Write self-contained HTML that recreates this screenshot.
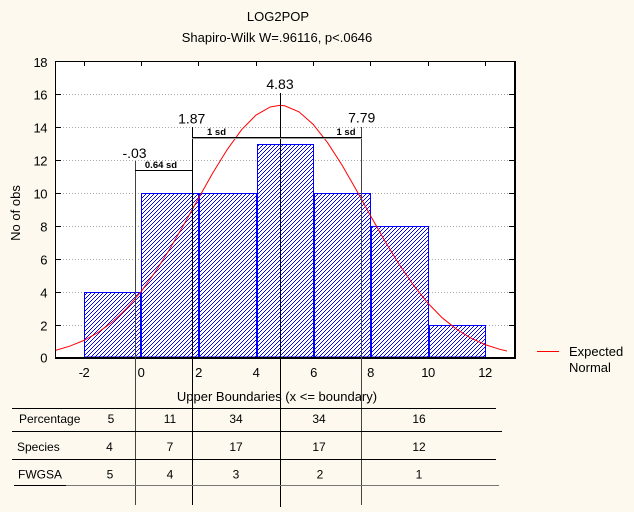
<!DOCTYPE html>
<html>
<head>
<meta charset="utf-8">
<style>
html,body{margin:0;padding:0;background:#fdf9ee;}
svg{display:block;}
text{font-family:"Liberation Sans",Arial,sans-serif;fill:#000;}
</style>
</head>
<body>
<svg width="634" height="512" viewBox="0 0 634 512" xmlns="http://www.w3.org/2000/svg">
<defs>
<pattern id="h" x="0" y="0" width="4" height="4" patternUnits="userSpaceOnUse">
<rect x="0" y="0" width="4" height="4" fill="#ffffff"/>
<rect x="3" y="0" width="1" height="1" fill="#0000ff"/>
<rect x="2" y="1" width="1" height="1" fill="#0000ff"/>
<rect x="1" y="2" width="1" height="1" fill="#0000ff"/>
<rect x="0" y="3" width="1" height="1" fill="#0000ff"/>
</pattern>
</defs>
<rect width="634" height="512" fill="#fdf9ee"/>

<!-- titles -->
<text x="278" y="21" font-size="13" text-anchor="middle">LOG2POP</text>
<text x="277" y="42" font-size="13" text-anchor="middle">Shapiro-Wilk W=.96116, p&lt;.0646</text>

<!-- plot area -->
<rect x="55" y="61" width="460" height="297" fill="#ffffff"/>

<!-- grid -->
<g stroke="#a8a8a8" stroke-width="1" stroke-dasharray="1,2">
<line x1="60" y1="94.5" x2="510" y2="94.5"/>
<line x1="60" y1="127.5" x2="510" y2="127.5"/>
<line x1="60" y1="160.5" x2="510" y2="160.5"/>
<line x1="60" y1="193.5" x2="510" y2="193.5"/>
<line x1="60" y1="226.5" x2="510" y2="226.5"/>
<line x1="60" y1="259.5" x2="510" y2="259.5"/>
<line x1="60" y1="292.5" x2="510" y2="292.5"/>
<line x1="60" y1="325.5" x2="510" y2="325.5"/>
</g>

<!-- bars -->
<g fill="url(#h)" stroke="#0000ff" stroke-width="1">
<rect x="84.5" y="292.5" width="56" height="64.5"/>
<rect x="141.5" y="193.5" width="57" height="163.5"/>
<rect x="199.5" y="193.5" width="57" height="163.5"/>
<rect x="257.5" y="144.5" width="56" height="212.5"/>
<rect x="314.5" y="193.5" width="56" height="163.5"/>
<rect x="371.5" y="226.5" width="57" height="130.5"/>
<rect x="429.5" y="325.5" width="56" height="31.5"/>
</g>

<!-- normal curve -->
<polyline fill="none" stroke="#ff0000" stroke-width="1" points="55.4,350.4 69.7,346.2 84,340.4 98.3,332.3 112.7,321.7 127,308.1 141.3,291.3 155.6,271.4 170,248.6 184.3,223.8 198.6,198.1 212.9,172.7 227.3,149.4 241.6,129.7 255.9,115.2 270.2,107 279.7,105.4 284.6,105.8 298.9,111.8 313.2,124.4 327.5,142.6 341.9,164.9 356.2,189.8 370.5,215.6 384.8,240.9 399.2,264.4 413.5,285.2 427.8,303 442.1,317.7 456.5,329.2 470.8,338.1 485.1,344.6 499.4,349.2 506.9,351"/>

<!-- frame -->
<line x1="55" y1="61.5" x2="516" y2="61.5" stroke="#000" stroke-width="1"/>
<line x1="55.5" y1="61" x2="55.5" y2="359" stroke="#000" stroke-width="1"/>
<line x1="55" y1="358" x2="516" y2="358" stroke="#000" stroke-width="2"/>
<line x1="515" y1="61" x2="515" y2="359" stroke="#000" stroke-width="2"/>

<!-- ticks -->
<g stroke="#000" stroke-width="1">
<line x1="56" y1="94.5" x2="61" y2="94.5"/>
<line x1="56" y1="127.5" x2="61" y2="127.5"/>
<line x1="56" y1="160.5" x2="61" y2="160.5"/>
<line x1="56" y1="193.5" x2="61" y2="193.5"/>
<line x1="56" y1="226.5" x2="61" y2="226.5"/>
<line x1="56" y1="259.5" x2="61" y2="259.5"/>
<line x1="56" y1="292.5" x2="61" y2="292.5"/>
<line x1="56" y1="325.5" x2="61" y2="325.5"/>
<line x1="509" y1="94.5" x2="514" y2="94.5"/>
<line x1="509" y1="127.5" x2="514" y2="127.5"/>
<line x1="509" y1="160.5" x2="514" y2="160.5"/>
<line x1="509" y1="193.5" x2="514" y2="193.5"/>
<line x1="509" y1="226.5" x2="514" y2="226.5"/>
<line x1="509" y1="259.5" x2="514" y2="259.5"/>
<line x1="509" y1="292.5" x2="514" y2="292.5"/>
<line x1="509" y1="325.5" x2="514" y2="325.5"/>
<line x1="84.5" y1="62" x2="84.5" y2="66"/>
<line x1="141.5" y1="62" x2="141.5" y2="66"/>
<line x1="198.5" y1="62" x2="198.5" y2="66"/>
<line x1="256.5" y1="62" x2="256.5" y2="66"/>
<line x1="313.5" y1="62" x2="313.5" y2="66"/>
<line x1="370.5" y1="62" x2="370.5" y2="66"/>
<line x1="428.5" y1="62" x2="428.5" y2="66"/>
<line x1="485.5" y1="62" x2="485.5" y2="66"/>
</g>

<!-- y tick labels -->
<g font-size="13" text-anchor="end" letter-spacing="-0.5">
<text x="47" y="67">18</text>
<text x="47" y="99.5">16</text>
<text x="47" y="132.5">14</text>
<text x="47" y="165.5">12</text>
<text x="47" y="198.5">10</text>
<text x="47" y="231.5">8</text>
<text x="47" y="264.5">6</text>
<text x="47" y="297.5">4</text>
<text x="47" y="330.5">2</text>
<text x="47" y="362.5">0</text>
</g>
<!-- x tick labels -->
<g font-size="13" text-anchor="middle" letter-spacing="-0.5">
<text x="84" y="377">-2</text>
<text x="141" y="377">0</text>
<text x="198.5" y="377">2</text>
<text x="256" y="377">4</text>
<text x="313.5" y="377">6</text>
<text x="370.5" y="377">8</text>
<text x="428" y="377">10</text>
<text x="485" y="377">12</text>
</g>

<!-- axis titles -->
<text x="277" y="401" font-size="13" text-anchor="middle">Upper Boundaries (x &lt;= boundary)</text>
<text transform="translate(20,213) rotate(-90)" font-size="13" text-anchor="middle">No of obs</text>

<!-- vertical marker lines -->
<line x1="135.5" y1="161" x2="135.5" y2="505" stroke="#444" stroke-width="1"/>
<line x1="192.5" y1="127" x2="192.5" y2="505" stroke="#000" stroke-width="1"/>
<line x1="280.5" y1="93" x2="280.5" y2="507" stroke="#000" stroke-width="1"/>
<line x1="361.5" y1="127" x2="361.5" y2="505" stroke="#444" stroke-width="1"/>

<!-- brackets -->
<line x1="135" y1="170.5" x2="193" y2="170.5" stroke="#000" stroke-width="1"/>
<line x1="192" y1="137.5" x2="362" y2="137.5" stroke="#000" stroke-width="1"/>
<line x1="192" y1="138.5" x2="362" y2="138.5" stroke="#999" stroke-width="1"/>

<!-- marker labels -->
<g font-size="14" text-anchor="middle">
<text x="134.5" y="158">-.03</text>
<text x="191.7" y="123.5">1.87</text>
<text x="280" y="89">4.83</text>
<text x="361.7" y="122.5">7.79</text>
</g>
<g font-size="9.5" font-weight="bold" text-anchor="middle">
<text x="161" y="168">0.64 sd</text>
<text x="216.5" y="135">1 sd</text>
<text x="346" y="135">1 sd</text>
</g>

<!-- legend -->
<line x1="537" y1="351.5" x2="559" y2="351.5" stroke="#ff0000" stroke-width="1"/>
<text x="569" y="356" font-size="13">Expected</text>
<text x="569" y="372" font-size="13">Normal</text>

<!-- table -->
<g stroke="#000" stroke-width="1">
<line x1="12" y1="408.5" x2="496" y2="408.5"/>
<line x1="12" y1="431.5" x2="502" y2="431.5"/>
<line x1="12" y1="459.5" x2="496" y2="459.5"/>
<line x1="14" y1="485.5" x2="66" y2="485.5"/>
</g>
<line x1="66" y1="485.5" x2="499" y2="485.5" stroke="#777" stroke-width="1"/>

<g font-size="12">
<text x="19" y="423">Percentage</text>
<text x="17" y="451">Species</text>
<text x="18" y="478.5">FWGSA</text>
</g>
<g font-size="12" text-anchor="middle">
<text x="111" y="423">5</text>
<text x="170" y="423">11</text>
<text x="236" y="423">34</text>
<text x="319" y="423">34</text>
<text x="419" y="423">16</text>
<text x="109.5" y="451">4</text>
<text x="170" y="451">7</text>
<text x="236" y="451">17</text>
<text x="319" y="451">17</text>
<text x="419" y="451">12</text>
<text x="110" y="478.5">5</text>
<text x="170" y="478.5">4</text>
<text x="236" y="478.5">3</text>
<text x="320" y="478.5">2</text>
<text x="419" y="478.5">1</text>
</g>
</svg>
</body>
</html>
